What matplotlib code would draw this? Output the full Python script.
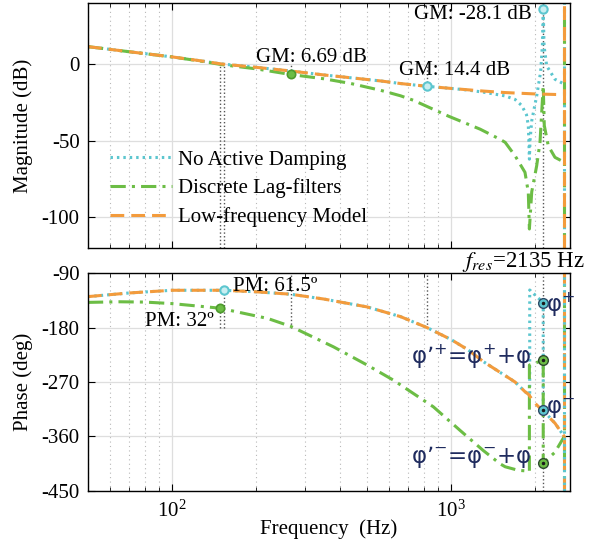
import matplotlib
matplotlib.use("Agg")
import matplotlib.pyplot as plt
from matplotlib.ticker import LogLocator, NullFormatter, LogFormatterMathtext

# Values (Hz, dB, deg)
NYQ = 2540
F_RES = 2135

lf_mag_freq = [50, 70, 100, 127, 150, 200, 266, 350, 435, 558, 658, 818, 1000, 1300, 1560, 2000, 2540]
lf_mag = [11.5, 8.2, 4.8, 2.2, 0.2, -2.0, -4.4, -7.0, -8.8, -10.9, -12.6, -14.4, -15.8, -17.5, -18.5, -19.4, -19.9]

noad_mag_freq = [50, 70, 100, 127, 150, 200, 266, 350, 435, 558, 658, 818, 1000, 1137, 1300, 1560,
                 1693, 1789, 1860, 1888, 1898, 1905, 1915, 1942, 2023, 2090, 2120, 2135, 2150, 2197, 2352, 2540]
noad_mag = [11.5, 8.2, 4.8, 2.2, 0.2, -2.0, -4.4, -7.0, -8.8, -10.9, -12.6, -14.4, -15.8, -16.8, -18.2, -20.7,
            -23.0, -27.0, -33.0, -40.0, -52.0, -62.0, -50.0, -37.0, -20.7, -5.0, 12.0, 36.3, 12.0, -1.1, -9.8, -13.0]

lag_mag_freq = [50, 70, 100, 127, 150, 200, 266, 350, 435, 558, 658, 731, 980, 1269, 1495, 1560,
                1693, 1837, 1888, 1905, 1942, 2023, 2079, 2135, 2154, 2226, 2352, 2540]
lag_mag = [11.5, 8.2, 4.8, 2.0, -0.2, -3.0, -6.7, -9.5, -12.5, -17.0, -20.6, -23.5, -34.0, -42.4, -49.0, -51.0,
           -59.8, -70.6, -83.6, -107.6, -83.4, -66.3, -51.0, -14.1, -40.0, -53.3, -60.8, -64.0]

lf_ph_freq = [50, 70, 100, 153, 200, 266, 350, 500, 658, 818, 1000, 1150, 1300, 1495, 1693, 1837, 1888,
              1995, 2140, 2352, 2540]
lf_ph = [-129, -123, -118.5, -118.5, -121, -125, -133, -146, -162, -180, -200, -217, -236, -254, -270, -286, -290,
         -305, -319, -338, -360]

noad_ph_freq = [50, 70, 100, 153, 200, 266, 350, 500, 658, 818, 1000, 1150, 1300, 1495, 1693, 1837, 1888,
                1910, 1910, 2135, 2135, 2352, 2540]
noad_ph = [-129, -123, -118.5, -118.5, -121, -125, -133, -146, -162, -180, -200, -217, -236, -254, -270, -286, -290,
           -291, -118, -139, -317, -338, -360]

lag_ph_freq = [50, 65, 80, 100, 148, 220, 266, 379, 500, 621, 863, 1076, 1301, 1495, 1560, 1742, 1888,
               1905, 1905, 2135, 2135, 2352, 2540]
lag_ph = [-138.5, -137.5, -138, -140.5, -148, -165, -178, -212, -242, -267, -311, -350, -383, -405, -410, -416, -417,
          -418, -242, -234, -404, -386, -360]

# margin markers
noad_gm_freq = [818, 2135]
noad_gm = [-14.4, 36.3]
lag_gm_freq = [266]
lag_gm = [-6.69]
noad_pm_freq = [153]
noad_pm = [-118.5]
lag_pm_freq = [148]
lag_pm = [-148]
crossover_freq = [148, 153]
phase_cross_freq = [266, 818]

# phase points at resonance
noad_phi = [-139, -317]
lag_phi = [-234, -404]

CYAN = "#5cc6cf"
GREEN = "#6cbd45"
ORANGE = "#f39b3c"
NAVY = "#1f2b5e"
GUIDE = "#555555"

LW = 2.2
CYAN_LS = (0, (0.8, 1.3))
GREEN_LS = (0, (5, 2, 1, 2))
ORANGE_LS = (0, (4.5, 2.3))

plt.rcParams.update({
    "font.family": ["Liberation Serif", "DejaVu Serif"],
    "mathtext.fontset": "stix",
    "font.size": 15,
    "axes.unicode_minus": False,
})

fig = plt.figure(figsize=(5.94, 5.43), dpi=100)
ax1 = fig.add_axes([0.148, 0.5433, 0.8114, 0.4512])
ax2 = fig.add_axes([0.148, 0.0958, 0.8114, 0.4014])

for ax in (ax1, ax2):
    ax.set_xscale("log")
    ax.set_xlim(50, 2660)
    ax.xaxis.set_major_locator(LogLocator(base=10))
    ax.xaxis.set_minor_locator(LogLocator(base=10, subs=range(2, 10)))
    ax.xaxis.set_minor_formatter(NullFormatter())
    ax.grid(which="major", color="#dedede", lw=0.9, ls="-")
    ax.grid(which="minor", axis="x", color="#b8b8b8", lw=0.8, ls=(0, (1, 3)))
    ax.set_axisbelow(True)
    ax.tick_params(which="both", direction="in", top=True, right=True, labelsize=15)
    ax.tick_params(which="major", length=5)
    ax.tick_params(which="minor", length=3)
    ax.tick_params(axis="y", pad=6)
    ax.tick_params(axis="x", pad=7)
    for s in ax.spines.values():
        s.set_linewidth(1.0)

# --- magnitude ---
ax1.vlines(crossover_freq, -120, 0, colors=GUIDE, ls=":", lw=1)
ax1.vlines(lag_gm_freq, lag_gm, 0, colors=GUIDE, ls=":", lw=1)
ax1.vlines(noad_gm_freq[:1], noad_gm[:1], 0, colors=GUIDE, ls=":", lw=1)
ax1.axvline(F_RES, color=GUIDE, ls=":", lw=1)

l1, = ax1.plot(noad_mag_freq, noad_mag, color=CYAN, ls=CYAN_LS, lw=LW, label="No Active Damping")
l2, = ax1.plot(lag_mag_freq, lag_mag, color=GREEN, ls=GREEN_LS, lw=LW, label="Discrete Lag-filters")
l3, = ax1.plot(lf_mag_freq, lf_mag, color=ORANGE, ls=ORANGE_LS, lw=LW, label="Low-frequency Model")
ax1.axvline(NYQ, color=CYAN, ls=CYAN_LS, lw=LW)
ax1.axvline(NYQ, color=GREEN, ls=GREEN_LS, lw=LW)
ax1.axvline(NYQ, color=ORANGE, ls=ORANGE_LS, lw=LW)

ax1.plot(noad_gm_freq, noad_gm, "o", ms=6, mfc="#c9eef1", mec=CYAN, mew=1.5)
ax1.plot(lag_gm_freq, lag_gm, "o", ms=6, mfc=GREEN, mec="#4e9a2e", mew=1.2)

ax1.text(200, 4.6, "GM: 6.69 dB", va="center", ha="left")
ax1.text(652, -4.4, "GM: 14.4 dB", va="center", ha="left")
ax1.text(738, 32.6, "GM: -28.1 dB", va="center", ha="left")

ax1.set_ylim(-120, 40)
ax1.set_yticks([-100, -50, 0])
ax1.set_ylabel("Magnitude (dB)", fontsize=15, labelpad=6)
ax1.tick_params(axis="x", labelbottom=False)
ax1.legend(handles=[l1, l2, l3], loc="upper left", bbox_to_anchor=(0.045, 0.40),
           frameon=False, handlelength=3.0, handletextpad=0.3, labelspacing=0.42,
           borderaxespad=0, borderpad=0, fontsize=15)

# --- phase ---
ax2.vlines(crossover_freq[:1], -180, lag_pm, colors=GUIDE, ls=":", lw=1)
ax2.vlines(crossover_freq[1:], -180, noad_pm, colors=GUIDE, ls=":", lw=1)
ax2.vlines(phase_cross_freq, -180, -90, colors=GUIDE, ls=":", lw=1)
ax2.axvline(F_RES, color=GUIDE, ls=":", lw=1)

ax2.plot(noad_ph_freq, noad_ph, color=CYAN, ls=CYAN_LS, lw=LW)
ax2.plot(lag_ph_freq, lag_ph, color=GREEN, ls=GREEN_LS, lw=LW)
ax2.plot(lf_ph_freq, lf_ph, color=ORANGE, ls=ORANGE_LS, lw=LW)
ax2.axvline(NYQ, color=GREEN, ls=GREEN_LS, lw=LW)
ax2.axvline(NYQ, color=ORANGE, ls=ORANGE_LS, lw=LW)
ax2.axvline(NYQ, color=CYAN, ls=CYAN_LS, lw=LW)

ax2.plot(noad_pm_freq, noad_pm, "o", ms=6, mfc="#c9eef1", mec=CYAN, mew=1.5)
ax2.plot(lag_pm_freq, lag_pm, "o", ms=6, mfc=GREEN, mec="#4e9a2e", mew=1.2)

# resonance phase markers
ax2.plot([F_RES] * 2, noad_phi, "o", ms=7, mfc=CYAN, mec="#2d4a66", mew=1.0, zorder=5)
ax2.plot([F_RES] * 2, lag_phi, "o", ms=7, mfc=GREEN, mec="#2d4a2e", mew=1.0, zorder=5)
ax2.plot([F_RES] * 4, noad_phi + lag_phi, ".", ms=3, color="#1a1a1a", zorder=6)

ax2.text(166, -112.7, "PM: 61.5º", va="center", ha="left")
ax2.text(80, -170.7, "PM: 32º", va="center", ha="left")

phi_font = dict(family="DejaVu Sans", color=NAVY, fontsize=16.5, math_fontfamily="dejavusans")
ax2.text(2184, -143, r"φ$^{+}$", va="center", ha="left", **phi_font)
ax2.text(2184, -315, r"φ$^{-}$", va="center", ha="left", **phi_font)
ax2.text(1935, -228, r"φ’$^{+}$=φ$^{+}$+φ", va="center", ha="right", **phi_font)
ax2.text(1935, -394, r"φ’$^{-}$=φ$^{-}$+φ", va="center", ha="right", **phi_font)

ax2.text(1090, -72, r"$f_{res}$=2135 Hz", va="center", ha="left", fontsize=16.5, clip_on=False)

ax2.set_ylim(-450, -90)
ax2.set_yticks([-450, -360, -270, -180, -90])
ax2.xaxis.set_major_formatter(LogFormatterMathtext())
ax2.set_ylabel("Phase (deg)", fontsize=15, labelpad=6)
ax2.set_xlabel("Frequency  (Hz)", fontsize=15, labelpad=-2)

fig.align_ylabels([ax1, ax2])
fig.savefig("out.png", dpi=100)
